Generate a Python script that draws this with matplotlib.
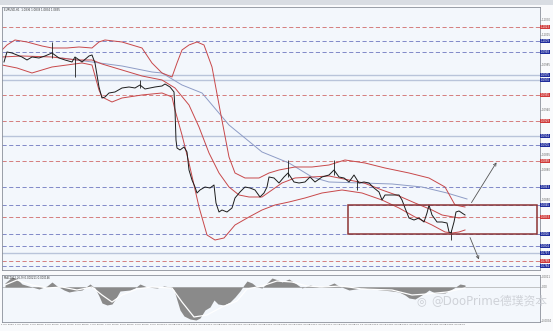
import matplotlib
matplotlib.use("Agg")
import matplotlib.pyplot as plt
from matplotlib.patches import Rectangle

plt.rcParams['font.family'] = ['DejaVu Sans', 'Noto Sans CJK SC']

# 价格（收盘）
bar_x = [2, 5, 10, 15, 20, 25, 30, 37, 43, 50, 57, 63, 70, 73, 80, 87, 90, 93, 97, 100,
         103, 107, 113, 120, 127, 133, 138, 143, 153, 160, 163, 168, 172, 173, 174, 175, 178, 182, 185, 187,
         190, 193, 195, 198, 203, 208, 212, 214, 217, 220, 225, 230, 233, 238, 243, 248, 253, 258, 262, 265,
         267, 272, 277, 282, 286, 292, 297, 303, 308, 313, 320, 327, 332, 337, 342, 347, 352, 357, 362, 367,
         372, 377, 380, 383, 390, 397, 400, 403, 407, 412, 417, 422, 425, 427, 430, 435, 440, 445, 447, 449,
         452, 454, 457, 460, 463]
close = [1.0988, 1.0998, 1.0997, 1.0995, 1.0993, 1.0990, 1.0993, 1.0992, 1.0994, 1.0997,
         1.0992, 1.0990, 1.0988, 1.0993, 1.0988, 1.0994, 1.0995, 1.0987, 1.0963, 1.0952,
         1.0953, 1.0957, 1.0958, 1.0962, 1.0963, 1.0962, 1.0965, 1.0961, 1.0963, 1.0964,
         1.0966, 1.0963, 1.0958, 1.0940, 1.0910, 1.0902, 1.0900, 1.0903, 1.0898, 1.0880,
         1.0870, 1.0863, 1.0857, 1.0860, 1.0863, 1.0862, 1.0865, 1.0847, 1.0838, 1.0840,
         1.0838, 1.0842, 1.0852, 1.0858, 1.0863, 1.0862, 1.0860, 1.0853, 1.0857, 1.0863,
         1.0873, 1.0872, 1.0867, 1.0873, 1.0877, 1.0868, 1.0867, 1.0868, 1.0873, 1.0868,
         1.0873, 1.0875, 1.0880, 1.0873, 1.0872, 1.0868, 1.0875, 1.0867, 1.0868, 1.0867,
         1.0862, 1.0858, 1.0850, 1.0855, 1.0855, 1.0855, 1.0850, 1.0842, 1.0832, 1.0830,
         1.0832, 1.0828, 1.0837, 1.0845, 1.0835, 1.0828, 1.0828, 1.0827, 1.0818, 1.0817,
         1.0828, 1.0838, 1.0839, 1.0837, 1.0835]

# 影线尖刺
wick_x = [50, 73, 138, 286, 332, 355, 449]
wick_lo = [1.0992, 1.0973, 1.0962, 1.0873, 1.0875, 1.0860, 1.0810]
wick_hi = [1.1008, 1.0993, 1.0970, 1.0890, 1.0890, 1.0870, 1.0820]

# 布林带
up_x = [0, 5, 13, 25, 40, 50, 65, 77, 90, 97, 103, 120, 140, 150, 160, 170, 175, 180, 187, 195,
        202, 210, 218, 227, 233, 243, 257, 267, 277, 293, 310, 327, 343, 363, 383, 407, 427, 443, 453, 463]
upper = [1.1000, 1.1005, 1.1010, 1.1008, 1.1004, 1.1002, 1.1002, 1.1003, 1.1002, 1.1008,
         1.1010, 1.1008, 1.1002, 1.0987, 1.0977, 1.0973, 1.0987, 1.1000, 1.1005, 1.1008,
         1.1005, 1.0983, 1.0940, 1.0893, 1.0877, 1.0872, 1.0872, 1.0877, 1.0880, 1.0883,
         1.0883, 1.0885, 1.0890, 1.0887, 1.0882, 1.0877, 1.0872, 1.0863, 1.0845, 1.0843]
mid_x = [0, 20, 50, 75, 90, 100, 120, 140, 160, 173, 187, 197, 207, 217, 227, 237, 247, 260, 270, 280,
         293, 310, 327, 347, 362, 380, 397, 413, 430, 440, 457, 463]
middle = [1.0993, 1.0994, 1.0993, 1.0990, 1.0990, 1.0986, 1.0980, 1.0974, 1.0970, 1.0962,
          1.0945, 1.0923, 1.0897, 1.0877, 1.0863, 1.0855, 1.0853, 1.0853, 1.0860, 1.0867,
          1.0872, 1.0873, 1.0874, 1.0870, 1.0867, 1.0860, 1.0854, 1.0847, 1.0840, 1.0835,
          1.0832, 1.0833]
lo_x = [0, 15, 30, 50, 80, 90, 97, 100, 110, 120, 140, 160, 170, 173, 180, 187, 197, 205, 213, 222,
        233, 247, 260, 273, 287, 303, 320, 340, 360, 380, 397, 413, 430, 443, 450, 457, 463]
lower = [1.0985, 1.0982, 1.0977, 1.0983, 1.0987, 1.0985, 1.0960, 1.0953, 1.0948, 1.0952,
         1.0955, 1.0957, 1.0953, 1.0940, 1.0915, 1.0887, 1.0843, 1.0815, 1.0810, 1.0812,
         1.0825, 1.0833, 1.0840, 1.0845, 1.0848, 1.0852, 1.0857, 1.0860, 1.0857, 1.0850,
         1.0842, 1.0833, 1.0825, 1.0818, 1.0817, 1.0818, 1.0820]

# 长周期均线
ma_x = [60, 90, 120, 150, 160, 180, 200, 227, 260, 287, 310, 327, 360, 390, 420, 445, 465]
ma_long = [1.0992, 1.0988, 1.0984, 1.0978, 1.0977, 1.0965, 1.0957, 1.0925, 1.0898, 1.0887,
           1.0873, 1.0868, 1.0867, 1.0866, 1.0863, 1.0857, 1.0851]

# 水平位
red_levels = [1.1023, 1.0955, 1.0929, 1.0889, 1.0833, 1.0789]
blue_levels = [1.1009, 1.0998, 1.0905, 1.0863, 1.0845, 1.0816, 1.0804, 1.0784]
solid_levels = [1.0975, 1.0970, 1.0914, 1.0797]

# 区间矩形
box_x = [346, 535]
box_price = [1.0816, 1.0845]

# 箭头
arrow_up = [(468, 1.0845), (496, 1.0890)]
arrow_down = [(467, 1.0815), (478, 1.0788)]

# 副图振荡指标
osc_x = [3, 10, 15, 20, 30, 37, 45, 50, 55, 62, 67, 72, 80, 88, 93, 97, 100, 105, 110, 114,
         118, 128, 133, 138, 145, 155, 162, 168, 172, 175, 178, 182, 188, 194, 198, 203, 208, 212, 216, 222,
         228, 233, 238, 242, 245, 250, 255, 260, 265, 270, 276, 280, 287, 293, 300, 308, 317, 325, 332, 337,
         347, 360, 370, 380, 390, 397, 403, 407, 413, 418, 423, 427, 433, 443, 452, 458, 463]
osc = [0.0004, 0.0010, 0.0008, 0.0003, 0.0, -0.0002, 0.0001, 0.0005, 0.0001, -0.0003,
       -0.0005, -0.0004, -0.0003, 0.0003, -0.0001, -0.0009, -0.0016, -0.0018, -0.0017, -0.0011,
       -0.0004, -0.0003, -0.0001, 0.0003, 0.0, -0.0001, 0.0001, 0.0, -0.0003, -0.0013,
       -0.0023, -0.0029, -0.0032, -0.0033, -0.0031, -0.0023, -0.0020, -0.0013, -0.0017, -0.0018,
       -0.0015, -0.0010, -0.0004, 0.0002, 0.0006, 0.0004, 0.0, -0.0001, 0.0004, 0.0009,
       0.0007, 0.0005, 0.0008, 0.0004, -0.0001, 0.0002, 0.0, 0.0001, 0.0004, 0.0001,
       -0.0003, -0.0001, -0.0002, -0.0003, -0.0004, -0.0005, -0.0008, -0.0011, -0.0012, -0.0009,
       -0.0006, -0.0003, -0.0006, -0.0006, -0.0001, 0.0003, 0.0002]
sig_x = [3, 15, 30, 45, 60, 75, 90, 100, 110, 120, 135, 150, 170, 180, 192, 205, 220, 235, 245, 260,
         275, 290, 305, 320, 340, 360, 390, 410, 425, 445, 463]
signal = [0.0002, 0.0007, 0.0002, -0.0001, 0.0, -0.0003, 0.0, -0.0008, -0.0015, -0.0008,
          -0.0002, 0.0, -0.0001, -0.0015, -0.0030, -0.0028, -0.0020, -0.0014, -0.0002, 0.0001,
          0.0006, 0.0005, 0.0001, 0.0, 0.0001, -0.0002, -0.0003, -0.0008, -0.0007, -0.0005, -0.0001]

time_labels = ["1 Jun 2023", "1 Jun 16:00", "2 Jun 08:00", "5 Jun 00:00", "5 Jun 16:00",
               "6 Jun 08:00", "7 Jun 00:00", "7 Jun 16:00", "8 Jun 08:00", "9 Jun 00:00",
               "9 Jun 16:00", "12 Jun 08:00", "13 Jun 00:00", "13 Jun 16:00", "14 Jun 08:00",
               "15 Jun 00:00", "15 Jun 16:00", "16 Jun 08:00", "19 Jun 00:00", "19 Jun 16:00",
               "20 Jun 08:00", "21 Jun 00:00", "21 Jun 16:00", "22 Jun 08:00", "23 Jun 00:00",
               "23 Jun 16:00", "26 Jun 08:00", "27 Jun 00:00", "27 Jun 16:00", "28 Jun 08:00",
               "29 Jun 00:00"]

RED = '#d06a6a'
BLUE = '#6f78c0'
BAND = '#c8484a'
BG = '#f3f7fc'
TXT = 1.9

fig = plt.figure(figsize=(5.53, 3.31), dpi=100)
fig.patch.set_facecolor('#f9fafc')
fig.patches.append(Rectangle((0, 0.985), 1, 0.015, transform=fig.transFigure,
                             facecolor='#d9dde3', edgecolor='none', zorder=0))

ax = fig.add_axes([0.0036, 0.1843, 0.9729, 0.7946])
ax2 = fig.add_axes([0.0036, 0.0272, 0.9729, 0.142], sharex=ax)

for a in (ax, ax2):
    a.set_facecolor(BG)
    for s in a.spines.values():
        s.set_color('#8a8f99')
        s.set_linewidth(0.6)
    a.yaxis.tick_right()
    a.tick_params(axis='y', labelsize=TXT, colors='#666', length=1.0, width=0.4, pad=0.5)
    a.tick_params(axis='x', length=0)

# 水平线
for lv in solid_levels:
    ax.axhline(lv, color='#b9c4da', lw=1.0, zorder=1)
for lv in red_levels:
    ax.axhline(lv, color=RED, lw=0.6, ls=(0, (5, 3)), zorder=1)
for lv in blue_levels:
    ax.axhline(lv, color=BLUE, lw=0.6, ls=(0, (5, 3)), zorder=1)

# 均线与布林带
ax.plot(ma_x, ma_long, color='#8e9cc6', lw=0.7, zorder=2)
ax.plot(up_x, upper, color=BAND, lw=0.7, zorder=2)
ax.plot(mid_x, middle, color=BAND, lw=0.7, zorder=2)
ax.plot(lo_x, lower, color=BAND, lw=0.7, zorder=2)

# 价格
ax.plot(bar_x, close, color='#1c1c1c', lw=0.7, zorder=3)
ax.vlines(wick_x, wick_lo, wick_hi, color='#1c1c1c', lw=0.6, zorder=3)

# 矩形与箭头
ax.add_patch(Rectangle((box_x[0], box_price[0]), box_x[1] - box_x[0], box_price[1] - box_price[0],
                       fill=False, edgecolor='#8c3434', lw=1.1, zorder=4))
for (x0, y0), (x1, y1) in (arrow_up, arrow_down):
    ax.annotate('', xy=(x1, y1), xytext=(x0, y0),
                arrowprops=dict(arrowstyle='->', color='#555', lw=0.6, mutation_scale=5), zorder=4)

ax.set_xlim(0, 538)
ax.set_ylim(1.0780, 1.1043)

# 常规刻度：避开高亮价位
all_levels = red_levels + blue_levels + solid_levels
ticks = [1.0790 + 0.0015 * i for i in range(17)]
ticks = [t for t in ticks if min(abs(t - lv) for lv in all_levels) > 0.00045]
ax.set_yticks(ticks)
ax.set_yticklabels(['%.4f' % t for t in ticks])

# 右侧价位标签
for lv, col in [(v, '#d03a3a') for v in red_levels] + [(v, '#1f2c9c') for v in blue_levels] + \
               [(v, '#1f2c9c') for v in solid_levels]:
    ax.text(1.001, lv, '%.4f' % lv, transform=ax.get_yaxis_transform(), fontsize=TXT,
            color='white', va='center', ha='left',
            bbox=dict(boxstyle='square,pad=0.1', facecolor=col, edgecolor='none'), zorder=6,
            clip_on=False)

ax.text(0.003, 0.997, 'EURUSD,H1  1.0836 1.0838 1.0834 1.0835', transform=ax.transAxes,
        fontsize=TXT, color='#333', va='top', ha='left')
plt.setp(ax.get_xticklabels(), visible=False)

# 副图
ax2.fill_between(osc_x, osc, 0, color='#8a8a8a', lw=0, zorder=2)
ax2.plot(sig_x, signal, color='white', lw=0.9, zorder=3)
ax2.axhline(0, color='#9a9a9a', lw=0.4, zorder=1)
ax2.set_ylim(-0.0035, 0.0012)
ax2.set_yticks([0.0010, 0.0, -0.0034])
ax2.set_yticklabels(['0.0011', '0.00', '-0.0034'])
ax2.text(0.003, 0.985, 'MACD(12,26,9) 0.000211 0.000146', transform=ax2.transAxes,
         fontsize=TXT, color='#333', va='top', ha='left')
ax2.set_xticks([5 + 15 * i for i in range(len(time_labels))])
ax2.set_xticklabels(time_labels, fontsize=1.7, color='#555')
ax2.tick_params(axis='x', pad=1.2)

# 水印
fig.text(0.99, 0.09, '@DooPrime德璞资本', fontsize=8.5, color='#c9ccd2', alpha=0.85,
         ha='right', va='center', family=['DejaVu Sans', 'Noto Sans CJK SC'])
fig.text(0.762, 0.09, '\u25CE', fontsize=8, color='#c9ccd2', ha='center', va='center')

fig.savefig('out.png', dpi=100, facecolor=fig.get_facecolor())
